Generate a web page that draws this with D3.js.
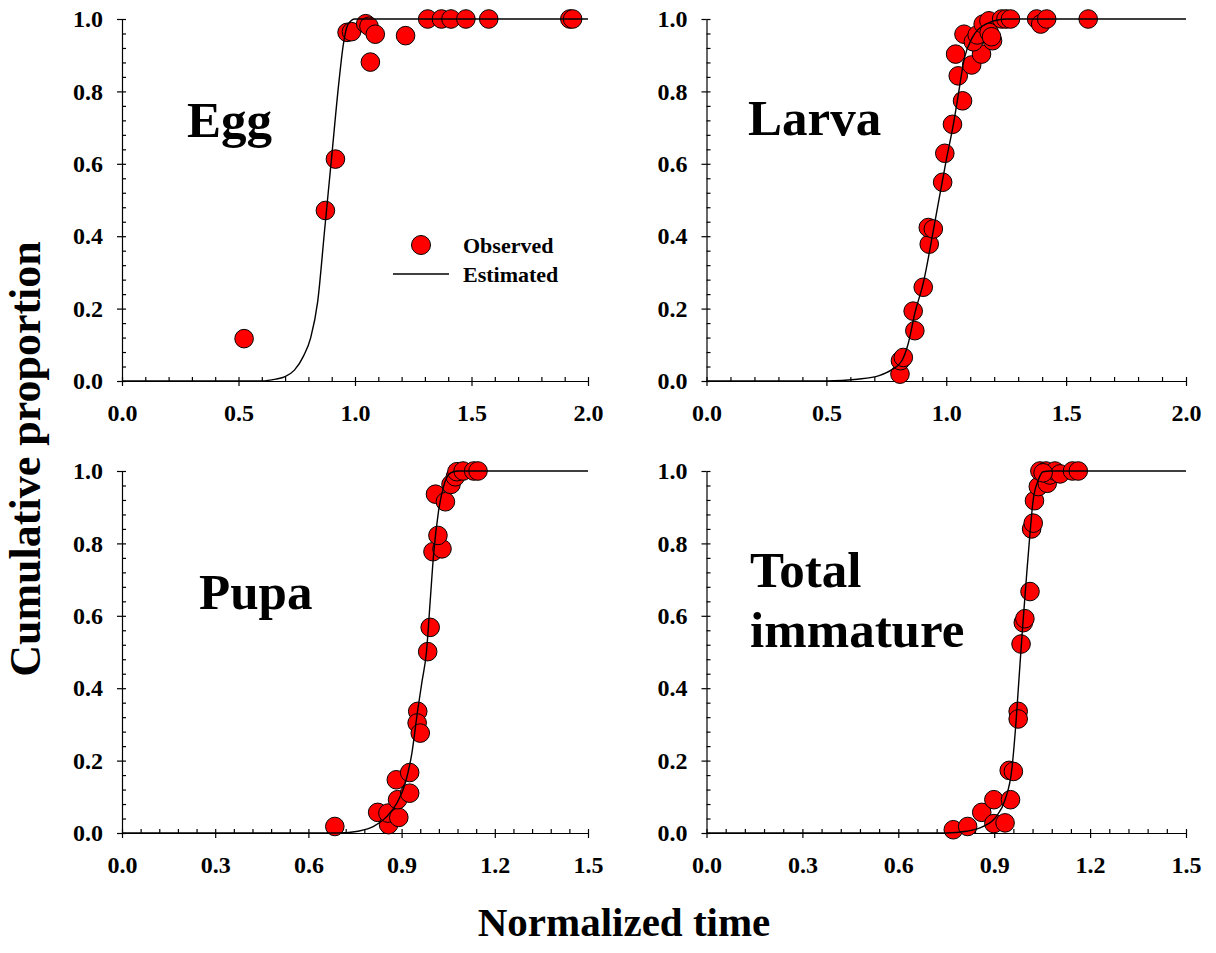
<!DOCTYPE html>
<html>
<head>
<meta charset="utf-8">
<script src="https://cdn.jsdelivr.net/npm/d3@7"></script>
<style>
  html, body { margin: 0; padding: 0; background: #fff; }
  svg { display: block; }
  text { font-family: "Liberation Serif", "Times New Roman", "DejaVu Serif", serif; font-weight: bold; fill: #000; }
</style>
</head>
<body>
<svg id="chart" width="1216" height="953"></svg>
<script>
// ---------------- DATA ----------------
const panelNames = ["Egg", "Larva", "Pupa", "Total immature"];

const yTickValues = [0, 0.2, 0.4, 0.6, 0.8, 1.0];
const xTickValuesTop = [0, 0.5, 1.0, 1.5, 2.0];
const xTickValuesBottom = [0, 0.3, 0.6, 0.9, 1.2, 1.5];

// Egg observed
const eggObsX = [0.524, 0.873, 0.916, 0.966, 0.985, 1.046, 1.060, 1.066, 1.087, 1.217, 1.312, 1.371, 1.412, 1.476, 1.574, 1.922, 1.934];
const eggObsY = [0.117, 0.471, 0.613, 0.963, 0.965, 0.987, 0.980, 0.881, 0.958, 0.954, 1.0, 1.0, 1.0, 1.0, 1.0, 1.0, 1.0];
// Egg estimated
const eggFitX = [0, 0.60, 0.66, 0.70, 0.74, 0.78, 0.81, 0.84, 0.87, 0.90, 0.93, 0.95, 0.97, 1.00, 2.0];
const eggFitY = [0, 0, 0.005, 0.012, 0.03, 0.07, 0.12, 0.22, 0.42, 0.62, 0.82, 0.93, 0.985, 1.0, 1.0];

// Larva observed
const larvaObsX = [0.807, 0.809, 0.821, 0.869, 0.862, 0.904, 0.929, 0.925, 0.946, 0.985, 0.994, 1.026, 1.068, 1.050, 1.039, 1.106, 1.074, 1.147, 1.113, 1.129, 1.154, 1.178, 1.179, 1.193, 1.189, 1.231, 1.249, 1.268, 1.377, 1.394, 1.419, 1.592];
const larvaObsY = [0.019, 0.056, 0.065, 0.139, 0.193, 0.259, 0.378, 0.424, 0.420, 0.549, 0.629, 0.709, 0.774, 0.843, 0.903, 0.873, 0.958, 0.903, 0.937, 0.956, 0.986, 0.995, 0.963, 0.940, 0.951, 1.0, 1.0, 1.0, 1.0, 0.986, 1.0, 1.0];
const larvaFitX = [0, 0.50, 0.63, 0.72, 0.77, 0.815, 0.84, 0.87, 0.904, 0.95, 1.00, 1.03, 1.05, 1.075, 1.11, 1.15, 1.25, 2.0];
const larvaFitY = [0, 0, 0.005, 0.015, 0.03, 0.056, 0.10, 0.19, 0.27, 0.43, 0.61, 0.71, 0.79, 0.89, 0.95, 0.98, 1.0, 1.0];

// Pupa observed
const pupaObsX = [0.685, 0.823, 0.858, 0.856, 0.891, 0.883, 0.887, 0.926, 0.926, 0.952, 0.950, 0.960, 0.984, 0.992, 1.001, 1.030, 1.017, 1.009, 1.041, 1.059, 1.073, 1.078, 1.098, 1.132, 1.146];
const pupaObsY = [0.018, 0.057, 0.023, 0.055, 0.043, 0.147, 0.092, 0.110, 0.167, 0.336, 0.304, 0.276, 0.501, 0.568, 0.777, 0.785, 0.822, 0.936, 0.915, 0.963, 0.984, 0.998, 1.0, 1.0, 1.0];
const pupaFitX = [0, 0.70, 0.76, 0.81, 0.853, 0.885, 0.912, 0.933, 0.952, 0.966, 0.98, 0.992, 1.003, 1.019, 1.035, 1.057, 1.08, 1.5];
const pupaFitY = [0, 0, 0.005, 0.018, 0.046, 0.083, 0.138, 0.22, 0.34, 0.42, 0.50, 0.64, 0.77, 0.89, 0.957, 0.994, 1.0, 1.0];

// Total immature observed
const totalObsX = [0.772, 0.817, 0.861, 0.899, 0.899, 0.934, 0.947, 0.960, 0.951, 0.975, 0.975, 0.984, 0.991, 0.996, 1.012, 1.017, 1.022, 1.026, 1.038, 1.043, 1.062, 1.066, 1.074, 1.090, 1.106, 1.145, 1.163, 1.053];
const totalObsY = [0.009, 0.018, 0.057, 0.092, 0.026, 0.028, 0.173, 0.170, 0.092, 0.336, 0.315, 0.522, 0.581, 0.592, 0.667, 0.840, 0.856, 0.918, 0.957, 1.0, 1.0, 0.966, 0.989, 1.0, 0.992, 1.0, 1.0, 0.995];
const totalFitX = [0, 0.75, 0.814, 0.866, 0.907, 0.934, 0.955, 0.968, 0.978, 0.989, 1.001, 1.012, 1.022, 1.038, 1.053, 1.074, 1.5];
const totalFitY = [0, 0, 0.005, 0.018, 0.046, 0.092, 0.175, 0.304, 0.432, 0.570, 0.708, 0.828, 0.92, 0.975, 0.998, 1.0, 1.0];

const legendLabels = ["Observed", "Estimated"];
const xAxisTitle = "Normalized time";
const yAxisTitle = "Cumulative proportion";

// ---------------- LAYOUT ----------------
const svg = d3.select("#chart");

const panels = [
  { name: panelNames[0], obsX: eggObsX, obsY: eggObsY, fitX: eggFitX, fitY: eggFitY,
    left: 122, right: 588, top: 19, bottom: 381, xMax: 2.0, xTicks: xTickValuesTop, xMinorStep: 0.1,
    labelLines: ["Egg"], labelX: 187, labelY: 137 },
  { name: panelNames[1], obsX: larvaObsX, obsY: larvaObsY, fitX: larvaFitX, fitY: larvaFitY,
    left: 706.5, right: 1186, top: 19, bottom: 381, xMax: 2.0, xTicks: xTickValuesTop, xMinorStep: 0.1,
    labelLines: ["Larva"], labelX: 748, labelY: 135 },
  { name: panelNames[2], obsX: pupaObsX, obsY: pupaObsY, fitX: pupaFitX, fitY: pupaFitY,
    left: 122, right: 588, top: 471, bottom: 833, xMax: 1.5, xTicks: xTickValuesBottom, xMinorStep: 0.06,
    labelLines: ["Pupa"], labelX: 199, labelY: 609 },
  { name: panelNames[3], obsX: totalObsX, obsY: totalObsY, fitX: totalFitX, fitY: totalFitY,
    left: 706.5, right: 1186, top: 471, bottom: 833, xMax: 1.5, xTicks: xTickValuesBottom, xMinorStep: 0.06,
    labelLines: ["Total", "immature"], labelX: 750, labelY: 587 }
];

panels.forEach((p, i) => {
  const g = svg.append("g");
  const x = d3.scaleLinear().domain([0, p.xMax]).range([p.left, p.right]);
  const y = d3.scaleLinear().domain([0, 1]).range([p.bottom, p.top]);

  // minor ticks (inside)
  const xMinor = d3.range(0, p.xMax + 1e-9, p.xMinorStep).map(v => +v.toFixed(3));
  const yMinor = d3.range(0, 1 + 1e-9, 0.04).map(v => +v.toFixed(3));

  const xMinorAxis = g.append("g")
    .attr("transform", `translate(0,${p.bottom})`)
    .call(d3.axisBottom(x).tickValues(xMinor).tickSize(-4).tickSizeOuter(0).tickFormat(""));
  xMinorAxis.select(".domain").remove();
  const yMinorAxis = g.append("g")
    .attr("transform", `translate(${p.left},0)`)
    .call(d3.axisLeft(y).tickValues(yMinor).tickSize(-4).tickSizeOuter(0).tickFormat(""));
  yMinorAxis.select(".domain").remove();

  // major axes
  const xAxis = g.append("g")
    .attr("transform", `translate(0,${p.bottom})`)
    .call(d3.axisBottom(x).tickValues(p.xTicks).tickSize(5).tickSizeOuter(0).tickPadding(18).tickFormat(d3.format(".1f")));
  const yAxis = g.append("g")
    .attr("transform", `translate(${p.left},0)`)
    .call(d3.axisLeft(y).tickValues(yTickValues).tickSize(5).tickSizeOuter(0).tickPadding(14).tickFormat(d3.format(".1f")));

  [xAxis, yAxis, xMinorAxis, yMinorAxis].forEach(a => {
    a.attr("font-family", null);
    a.selectAll("path, line").attr("stroke", "#000").attr("stroke-width", 1.2);
  });
  xAxis.selectAll("text").attr("font-size", 24).attr("dy", "0.71em");
  yAxis.selectAll("text").attr("font-size", 24);

  // observed points
  const pts = p.obsX.map((v, k) => [v, p.obsY[k]]);
  g.append("g").selectAll("circle").data(pts).join("circle")
    .attr("cx", d => x(d[0]))
    .attr("cy", d => y(d[1]))
    .attr("r", 9.3)
    .attr("fill", "#ff0000")
    .attr("stroke", "#000")
    .attr("stroke-width", 1);

  // estimated curve
  const fit = p.fitX.map((v, k) => [v, p.fitY[k]]);
  g.append("path")
    .datum(fit)
    .attr("fill", "none")
    .attr("stroke", "#000")
    .attr("stroke-width", 1.4)
    .attr("d", d3.line().x(d => x(d[0])).y(d => y(d[1])).curve(d3.curveMonotoneX));

  // panel label
  const lbl = g.append("text")
    .attr("x", p.labelX)
    .attr("y", p.labelY)
    .attr("font-size", 51);
  p.labelLines.forEach((t, k) => {
    lbl.append("tspan").attr("x", p.labelX).attr("dy", k === 0 ? 0 : 60).text(t);
  });

  // legend in the first panel
  if (i === 0) {
    const lg = g.append("g");
    lg.append("circle").attr("cx", 421).attr("cy", 245).attr("r", 9.5)
      .attr("fill", "#ff0000").attr("stroke", "#000").attr("stroke-width", 1);
    lg.append("text").attr("x", 463).attr("y", 253).attr("font-size", 22).text(legendLabels[0]);
    lg.append("line").attr("x1", 393).attr("x2", 449).attr("y1", 274).attr("y2", 274)
      .attr("stroke", "#000").attr("stroke-width", 1.4);
    lg.append("text").attr("x", 463).attr("y", 282).attr("font-size", 22).text(legendLabels[1]);
  }
});

// axis titles
svg.append("text")
  .attr("x", 624).attr("y", 936)
  .attr("text-anchor", "middle")
  .attr("font-size", 41)
  .text(xAxisTitle);

svg.append("text")
  .attr("transform", "translate(40,459) rotate(-90)")
  .attr("text-anchor", "middle")
  .attr("font-size", 44)
  .text(yAxisTitle);
</script>
</body>
</html>
